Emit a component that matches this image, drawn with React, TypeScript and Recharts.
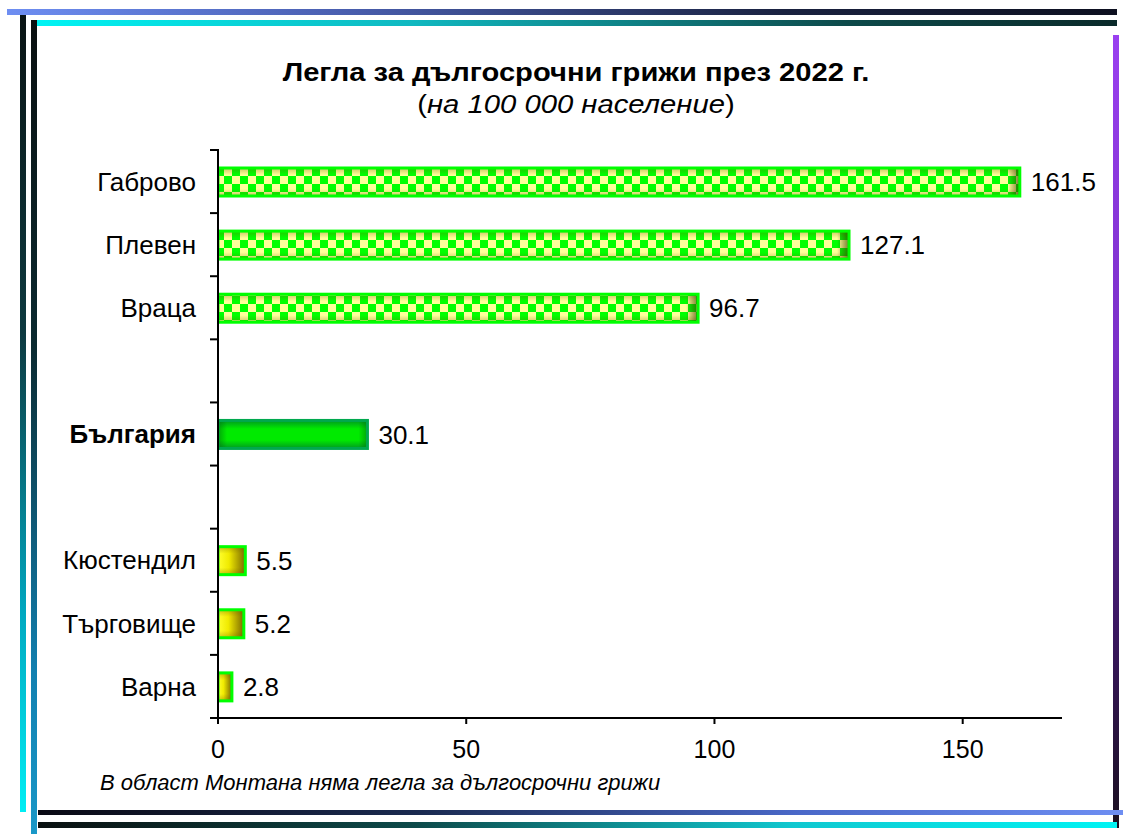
import { BarChart, Bar, XAxis, YAxis, LabelList } from "recharts";

const categories = ["Габрово", "Плевен", "Враца", " ", "България", "  ", "Кюстендил", "Търговище", "Варна"];
const values = [161.5, 127.1, 96.7, null, 30.1, null, 5.5, 5.2, 2.8];
// top regions, the national figure, bottom regions
const groups = ["top", "top", "top", "", "country", "", "bottom", "bottom", "bottom"];
const xTicks = [0, 50, 100, 150];
const xDomain = [0, 170];

const titleText = "Легла за дългосрочни грижи през 2022 г.";
const subtitleText = "на 100 000 население";
const noteText = "В област Монтана няма легла за дългосрочни грижи";

const data = categories.map((name, i) => ({ name, value: values[i], group: groups[i] }));

const FONT = "'Liberation Sans', Arial, sans-serif";
const W = 1123;
const H = 834;
const MARGIN = { top: 150, right: 61, bottom: 86, left: 0 };
const X_AXIS_H = 30;
const BAND = (H - MARGIN.top - MARGIN.bottom - X_AXIS_H) / categories.length;

function CategoryTick({ x, y, payload, index }: any) {
  const label = String(payload.value).trim();
  const half = BAND / 2;
  return (
    <g>
      <text
        x={x}
        y={y}
        dy="0.355em"
        textAnchor="end"
        fontSize={26}
        fontFamily={FONT}
        fontWeight={label === "България" ? 700 : 400}
        fill="#000"
      >
        {label}
      </text>
      {index === 0 && (
        <line x1={x + 14} x2={x + 23} y1={y - half} y2={y - half} stroke="#000" strokeWidth={2} />
      )}
      <line x1={x + 14} x2={x + 23} y1={y + half} y2={y + half} stroke="#000" strokeWidth={2} />
    </g>
  );
}

function BarShape(props: any) {
  const { x, y, width, height, payload } = props;
  if (payload.value == null || !(width > 0)) return <g />;

  if (payload.group === "top") {
    return (
      <g>
        <rect x={x} y={y} width={width} height={height} fill="url(#checker)" />
        <rect x={x} y={y} width={width} height={height} fill="url(#tubeShade)" />
        <rect x={x + width - 12} y={y} width={12} height={height} fill="url(#endShade)" />
        <rect x={x} y={y} width={width} height={height} fill="none" stroke="#00ff00" strokeWidth={3} />
      </g>
    );
  }
  if (payload.group === "country") {
    return (
      <g>
        <rect x={x} y={y} width={width} height={height} fill="url(#countryFill)" />
        <rect x={x} y={y} width={width} height={height} fill="url(#countryEdge)" />
        <rect x={x} y={y} width={width} height={height} fill="none" stroke="#00a84e" strokeWidth={3} />
      </g>
    );
  }
  return (
    <g>
      <rect x={x} y={y} width={width} height={height} fill="url(#yellowFill)" />
      <rect x={x} y={y} width={width} height={height} fill="url(#tubeShade)" />
      <rect x={x} y={y} width={width} height={height} fill="none" stroke="#00ff00" strokeWidth={3} />
    </g>
  );
}

function Line({ left, top, width, height, bg }: any) {
  return <div style={{ position: "absolute", left, top, width, height, background: bg }} />;
}

export default function App() {
  return (
    <div
      style={{
        position: "absolute",
        left: 0,
        top: 0,
        width: W,
        height: H,
        background: "#fff",
        fontFamily: FONT,
        overflow: "hidden",
      }}
    >
      {/* decorative frame */}
      <Line left={7} top={9} width={1110} height={6} bg="linear-gradient(to right, #6e8ef2 0%, #4a5fb0 30%, #1a2240 70%, #0d1020 100%)" />
      <Line left={35} top={20} width={1082} height={6} bg="linear-gradient(to right, #00f4f4 0%, #10b8c0 35%, #0d4a4a 75%, #0a2a2a 100%)" />
      <Line left={20} top={15} width={6} height={797} bg="linear-gradient(to bottom, #0a1414 0%, #0d3a40 40%, #00a8c0 75%, #00eef4 100%)" />
      <Line left={31} top={20} width={6} height={814} bg="linear-gradient(to bottom, #0a1010 0%, #0b2a30 40%, #1280b0 80%, #1a98c8 100%)" />
      <Line left={1113} top={35} width={6} height={793} bg="linear-gradient(to bottom, #9a40f0 0%, #7a30c8 40%, #3a1860 75%, #1a1020 100%)" />
      <Line left={38} top={810} width={1085} height={5} bg="linear-gradient(to right, #0a0a14 0%, #1a2a50 35%, #4a68c8 70%, #6e8ef2 100%)" />
      <Line left={38} top={822} width={1079} height={6} bg="linear-gradient(to right, #0a1010 0%, #0d4a4a 35%, #10c8d0 70%, #00f4f4 100%)" />

      <div
        style={{
          position: "absolute",
          left: 176,
          top: 58,
          width: 800,
          textAlign: "center",
          fontSize: 25,
          fontWeight: 700,
          lineHeight: "28px",
          color: "#000",
          transform: "scaleX(1.165)",
          transformOrigin: "center",
        }}
      >
        {titleText}
      </div>
      <div
        style={{
          position: "absolute",
          left: 176,
          top: 90,
          width: 800,
          textAlign: "center",
          fontSize: 25,
          lineHeight: "28px",
          color: "#000",
          transform: "scaleX(1.17)",
          transformOrigin: "center",
        }}
      >
        (<i>{subtitleText}</i>)
      </div>

      <BarChart
        width={W}
        height={H}
        data={data}
        layout="vertical"
        margin={MARGIN}
        style={{ position: "absolute", left: 0, top: 0 }}
      >
        <defs>
          <pattern id="checker" width={16} height={16} patternUnits="userSpaceOnUse">
            <rect width={16} height={16} fill="#ffff99" />
            <rect x={0} y={0} width={8} height={8} fill="#00ff00" />
            <rect x={8} y={8} width={8} height={8} fill="#00ff00" />
          </pattern>
          <linearGradient id="tubeShade" x1="0" y1="0" x2="0" y2="1">
            <stop offset="0%" stopColor="#6a5a00" stopOpacity={0.35} />
            <stop offset="25%" stopColor="#6a5a00" stopOpacity={0} />
            <stop offset="75%" stopColor="#6a5a00" stopOpacity={0} />
            <stop offset="100%" stopColor="#6a5a00" stopOpacity={0.35} />
          </linearGradient>
          <linearGradient id="endShade" x1="0" y1="0" x2="1" y2="0">
            <stop offset="0%" stopColor="#3a3a00" stopOpacity={0} />
            <stop offset="100%" stopColor="#3a3a00" stopOpacity={0.7} />
          </linearGradient>
          <linearGradient id="countryFill" x1="0" y1="0" x2="0" y2="1">
            <stop offset="0%" stopColor="#009a20" />
            <stop offset="30%" stopColor="#00ea00" />
            <stop offset="70%" stopColor="#00ea00" />
            <stop offset="100%" stopColor="#009a20" />
          </linearGradient>
          <linearGradient id="countryEdge" x1="0" y1="0" x2="1" y2="0">
            <stop offset="0%" stopColor="#006010" stopOpacity={0.5} />
            <stop offset="6%" stopColor="#006010" stopOpacity={0} />
            <stop offset="94%" stopColor="#006010" stopOpacity={0} />
            <stop offset="100%" stopColor="#006010" stopOpacity={0.5} />
          </linearGradient>
          <linearGradient id="yellowFill" x1="0" y1="0" x2="1" y2="0">
            <stop offset="0%" stopColor="#ffff30" />
            <stop offset="40%" stopColor="#f0ea00" />
            <stop offset="100%" stopColor="#7a6800" />
          </linearGradient>
        </defs>

        <XAxis
          type="number"
          domain={xDomain}
          ticks={xTicks}
          allowDataOverflow
          height={X_AXIS_H}
          axisLine={{ stroke: "#000", strokeWidth: 2 }}
          tickLine={{ stroke: "#000", strokeWidth: 2 }}
          tickSize={6}
          tickMargin={16}
          tick={{ fill: "#000", fontSize: 25, fontFamily: FONT }}
        />
        <YAxis
          type="category"
          dataKey="name"
          width={218}
          interval={0}
          axisLine={{ stroke: "#000", strokeWidth: 2 }}
          tickLine={false}
          tickSize={0}
          tickMargin={22}
          tick={<CategoryTick />}
        />
        <Bar dataKey="value" barSize={28} shape={<BarShape />} isAnimationActive={false}>
          <LabelList
            dataKey="value"
            position="right"
            offset={11}
            fill="#000"
            fontSize={26}
            fontFamily={FONT}
            formatter={(v: any) => (v == null ? "" : Number(v).toFixed(1))}
          />
        </Bar>
      </BarChart>

      <div
        style={{
          position: "absolute",
          left: 100,
          top: 771,
          fontSize: 22,
          fontStyle: "italic",
          lineHeight: "24px",
          color: "#000",
          whiteSpace: "nowrap",
        }}
      >
        {noteText}
      </div>
    </div>
  );
}
